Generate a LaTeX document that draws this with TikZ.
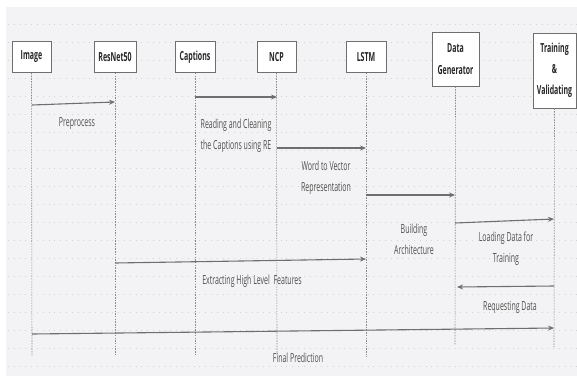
\documentclass[tikz,border=0pt]{standalone}
\usepackage{fontspec}
\setmainfont{Open Sans}[FakeStretch=0.56]
\usetikzlibrary{arrows.meta}
\definecolor{bgc}{HTML}{F3F3F5}
\definecolor{gridc}{HTML}{D2D2D8}
\definecolor{linec}{HTML}{6E6E6E}
\definecolor{txtc}{HTML}{505050}
\tikzset{
  actor/.style={draw=linec, line width=0.9pt, fill=white, inner sep=2pt, align=center, font=\fontsize{12.5}{22}\selectfont\bfseries, text=black!85},
  life/.style={draw=linec!80, dashed, dash pattern=on 1.5pt off 1.2pt, line width=0.6pt},
  msg/.style={draw=linec, line width=1.1pt, -{Stealth[length=6pt,width=5pt]}},
  lbl/.style={font=\fontsize{12.5}{21}\selectfont, text=txtc, align=center, inner sep=0pt}
}
\begin{document}
\begin{tikzpicture}[x=1pt,y=-1pt]
\useasboundingbox (0,0) rectangle (577,383);
\fill[white] (0,0) rectangle (577,383);
\fill[bgc] (6,7) rectangle (577,376);
\foreach \yy in {24,42,...,374} \draw[gridc, line width=0.6pt, dash pattern=on 0.8pt off 5pt] (8,\yy) -- (577,\yy);
% actors
\node[actor, minimum width=39pt, minimum height=31pt] (img) at (31.5,57) {Image};
\node[actor, minimum width=42pt, minimum height=31pt] (res) at (115,57) {ResNet50};
\node[actor, minimum width=40pt, minimum height=31pt] (cap) at (195,57) {Captions};
\node[actor, minimum width=39pt, minimum height=31pt] (ncp) at (276.5,57) {NCP};
\node[actor, minimum width=40pt, minimum height=31pt] (lstm) at (366,57) {LSTM};
\node[actor, minimum width=47pt, minimum height=54pt] (dg) at (455.5,59) {Data\\Generator};
\node[actor, minimum width=43pt, minimum height=75pt] (tr) at (554.5,70.5) {Training\\[-1pt]\&\\[-1pt]Validating};
% lifeline ends
\coordinate (imgE) at (32,355);
\coordinate (resE) at (115,355);
\coordinate (capE) at (195,355);
\coordinate (ncpE) at (277,355);
\coordinate (lstmE) at (366,357);
\coordinate (dgE) at (455,345);
\coordinate (trE) at (554,347);
\draw[life] (img.south) -- (imgE);
\draw[life] (res.south) -- (resE);
\draw[life] (cap.south) -- (capE);
\draw[life] (ncp.south) -- (ncpE);
\draw[life] (lstm.south) -- (lstmE);
\draw[life] (dg.south) -- (dgE);
\draw[life] (tr.south) -- (trE);
% messages
\coordinate (m1a) at (32,105); \coordinate (m1b) at (115,102);
\draw[msg] (m1a) -- (m1b);
\node[lbl] (l1) at (77,124) {Preprocess};
\coordinate (m2a) at (195,97); \coordinate (m2b) at (277,97);
\draw[msg] (m2a) -- (m2b);
\node[lbl] (l2) at (236,135.5) {Reading and Cleaning\\the Captions using RE};
\coordinate (m3a) at (277,148); \coordinate (m3b) at (366,148);
\draw[msg] (m3a) -- (m3b);
\node[lbl] (l3) at (326,178) {Word to Vector\\Representation};
\coordinate (m4a) at (366,195); \coordinate (m4b) at (455,195);
\draw[msg] (m4a) -- (m4b);
\node[lbl] (l4) at (414,239.5) {Building\\Architecture};
\coordinate (m5a) at (455,223); \coordinate (m5b) at (554,219);
\draw[msg] (m5a) -- (m5b);
\node[lbl] (l5) at (506,248.5) {Loading Data for\\Training};
\coordinate (m6a) at (115,263); \coordinate (m6b) at (366,259);
\draw[msg] (m6a) -- (m6b);
\node[lbl] (l6) at (252,281) {Extracting High Level~~Features};
\coordinate (m7a) at (554,286); \coordinate (m7b) at (457,287);
\draw[msg] (m7a) -- (m7b);
\node[lbl] (l7) at (510,307) {Requesting Data};
\coordinate (m8a) at (32,334); \coordinate (m8b) at (554,328);
\draw[msg] (m8a) -- (m8b);
\node[lbl] (l8) at (298,358) {Final Prediction};
\end{tikzpicture}
\end{document}
